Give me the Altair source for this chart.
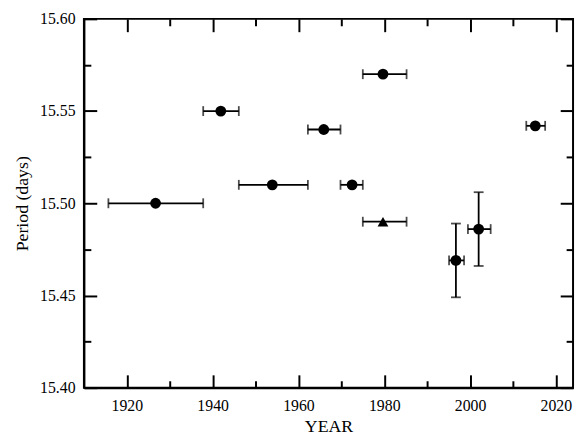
import altair as alt
import pandas as pd

years = [1926.7, 1941.9, 1953.9, 1965.9, 1972.5, 1979.7, 1979.7, 1996.7, 2002.0, 2015.2]
x_lo = [1915.7, 1937.8, 1946.1, 1962.2, 1969.8, 1975.0, 1975.0, 1995.1, 1999.5, 2013.1]
x_hi = [1937.8, 1946.1, 1962.2, 1969.8, 1975.0, 1985.2, 1985.2, 1998.6, 2004.8, 2017.5]
period = [15.50, 15.55, 15.51, 15.54, 15.51, 15.57, 15.49, 15.469, 15.486, 15.542]
p_lo = [None, None, None, None, None, None, None, 15.449, 15.466, None]
p_hi = [None, None, None, None, None, None, None, 15.489, 15.506, None]
shape = ["circle"] * 6 + ["triangle-up"] + ["circle"] * 3
x_ticks = [1920, 1940, 1960, 1980, 2000, 2020]
x_minor = [1930, 1950, 1970, 1990, 2010]
y_ticks = [15.40, 15.45, 15.50, 15.55, 15.60]
y_minor = [15.425, 15.475, 15.525, 15.575]

df = pd.DataFrame({"year": years, "xlo": x_lo, "xhi": x_hi, "p": period,
                   "plo": p_lo, "phi": p_hi, "shape": shape})
dy = df.dropna(subset=["plo"])

xs = alt.Scale(domain=[1910, 2024], nice=False)
ys = alt.Scale(domain=[15.40, 15.60], nice=False)
xax = alt.Axis(values=x_ticks, format="d", title="YEAR", grid=False, ticks=False, labelPadding=10,
               titlePadding=4)
yax = alt.Axis(values=y_ticks, format=".2f", title="Period (days)", grid=False, ticks=False,
               labelPadding=9, titlePadding=8)

base = alt.Chart(df)
xbar = base.mark_rule(color="black", strokeWidth=1.8).encode(
    x=alt.X("xlo:Q", scale=xs, axis=xax), x2="xhi", y=alt.Y("p:Q", scale=ys, axis=yax))
xcap_l = base.mark_tick(orient="vertical", color="black", size=10, thickness=1.8).encode(
    x=alt.X("xlo:Q", scale=xs), y=alt.Y("p:Q", scale=ys))
xcap_r = base.mark_tick(orient="vertical", color="black", size=10, thickness=1.8).encode(
    x=alt.X("xhi:Q", scale=xs), y=alt.Y("p:Q", scale=ys))
ybar = alt.Chart(dy).mark_rule(color="black", strokeWidth=1.8).encode(
    x=alt.X("year:Q", scale=xs), y=alt.Y("plo:Q", scale=ys), y2="phi")
ycap_l = alt.Chart(dy).mark_tick(orient="horizontal", color="black", size=10, thickness=1.8).encode(
    x=alt.X("year:Q", scale=xs), y=alt.Y("plo:Q", scale=ys))
ycap_h = alt.Chart(dy).mark_tick(orient="horizontal", color="black", size=10, thickness=1.8).encode(
    x=alt.X("year:Q", scale=xs), y=alt.Y("phi:Q", scale=ys))
pts = base.mark_point(filled=True, color="black", opacity=1, size=120).encode(
    x=alt.X("year:Q", scale=xs), y=alt.Y("p:Q", scale=ys),
    shape=alt.Shape("shape:N", scale=None))
main = alt.layer(xbar, xcap_l, xcap_r, ybar, ycap_l, ycap_h, pts)


def tick_layer(xo, yo, xv, yv, size):
    # invisible layer carrying an unlabelled axis pair whose ticks point into the plot
    return base.mark_point(opacity=0).encode(
        x=alt.X("year:Q", scale=xs, axis=alt.Axis(orient=xo, values=xv, labels=False, title=None,
                                                 domain=False, grid=False, tickSize=size,
                                                 offset=-size)),
        y=alt.Y("p:Q", scale=ys, axis=alt.Axis(orient=yo, values=yv, labels=False, title=None,
                                              domain=False, grid=False, tickSize=size,
                                              offset=-size)))


layers = [main,
          tick_layer("bottom", "left", x_ticks, y_ticks, 13),
          tick_layer("top", "right", x_ticks, y_ticks, 13),
          tick_layer("bottom", "left", x_minor, y_minor, 7),
          tick_layer("top", "right", x_minor, y_minor, 7)]

chart = alt.layer(*layers).resolve_axis(x="independent", y="independent").properties(
    width=496, height=374, autosize=alt.AutoSizeParams(type="none"),
    padding={"left": 77, "top": 8, "right": 3, "bottom": 47}
).configure_axis(
    labelFont="Liberation Serif", titleFont="Liberation Serif", labelFontSize=16,
    titleFontSize=18, titleFontWeight="normal", labelColor="black", titleColor="black",
    domainColor="black", tickColor="black", domainWidth=2, tickWidth=2
).configure_view(stroke="black", strokeWidth=2)

chart.save("out.html", embed_options={"renderer": "svg", "actions": False})
